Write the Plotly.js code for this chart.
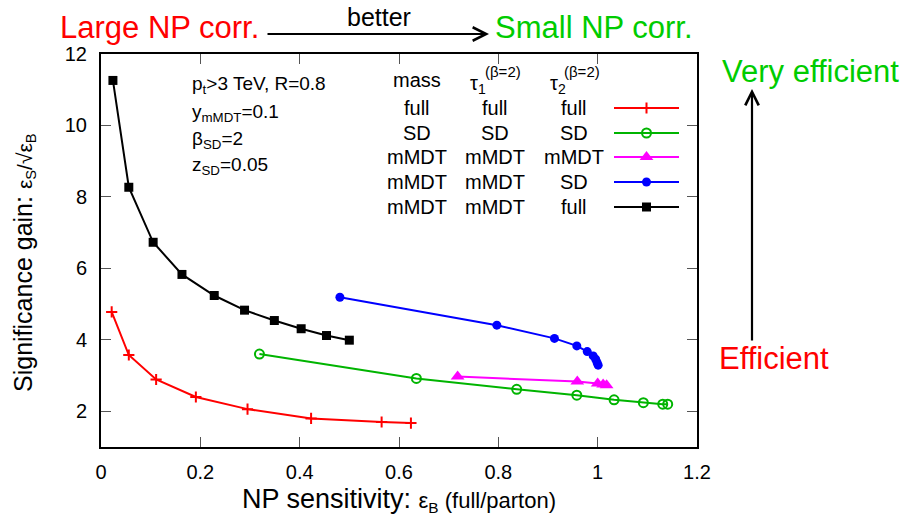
<!DOCTYPE html>
<html>
<head>
<meta charset="utf-8">
<script src="https://cdn.plot.ly/plotly-3.0.1.min.js"></script>
<style>html,body{margin:0;padding:0;background:#fff;}#plot{width:906px;height:516px;}</style>
</head>
<body>
<div id="plot"></div>
<script>
// ---- data ----
const xFull = [0.0215, 0.056, 0.111, 0.191, 0.295, 0.423, 0.565, 0.624];
const yFull = [4.78, 3.575, 2.89, 2.40, 2.06, 1.80, 1.70, 1.67];

const xSD = [0.319, 0.635, 0.837, 0.958, 1.033, 1.092, 1.131, 1.141];
const ySD = [3.60, 2.92, 2.615, 2.45, 2.32, 2.24, 2.20, 2.20];

const xMMDT = [0.718, 0.959, 1.000, 1.011, 1.018];
const yMMDT = [2.97, 2.83, 2.775, 2.75, 2.73];

const xMMDT_SD = [0.481, 0.797, 0.913, 0.958, 0.979, 0.991, 0.996, 0.999, 1.001];
const yMMDT_SD = [5.19, 4.41, 4.04, 3.83, 3.67, 3.55, 3.455, 3.36, 3.29];

const xMMDT_full = [0.024, 0.056, 0.105, 0.163, 0.228, 0.289, 0.349, 0.403, 0.454, 0.500];
const yMMDT_full = [11.26, 8.27, 6.73, 5.83, 5.24, 4.83, 4.54, 4.31, 4.12, 3.99];

const tableHeader = ["mass", "τ", "τ"];
const tableRows = [
  ["full", "full", "full"],
  ["SD", "SD", "SD"],
  ["mMDT", "mMDT", "mMDT"],
  ["mMDT", "mMDT", "SD"],
  ["mMDT", "mMDT", "full"]
];
const xTicks = [0, 0.2, 0.4, 0.6, 0.8, 1, 1.2];
const yTicks = [2, 4, 6, 8, 10, 12];

// ---- layout helpers ----
const W = 906, H = 516, ML = 101, MR = 209, MT = 54, MB = 69;
const PW = W - ML - MR, PH = H - MT - MB;
const px = v => (v - ML) / PW;
const py = v => (H - MB - v) / PH;
const FONT = "Liberation Sans, Arial, Helvetica, sans-serif";

const styles = [
  {color: "#ff0000", symbol: "cross-thin-open", size: 8, lw: 2},
  {color: "#00b400", symbol: "circle-open", size: 9, lw: 2},
  {color: "#ff00ff", symbol: "triangle-up", size: 12, lw: 0},
  {color: "#0000ff", symbol: "circle", size: 9, lw: 0},
  {color: "#000000", symbol: "square", size: 9, lw: 0}
];
const series = [[xFull, yFull], [xSD, ySD], [xMMDT, yMMDT], [xMMDT_SD, yMMDT_SD], [xMMDT_full, yMMDT_full]];

const data = [];
series.forEach((s, i) => {
  const st = styles[i];
  data.push({
    x: s[0], y: s[1], type: "scatter", mode: "lines+markers", showlegend: false,
    line: {color: st.color, width: 2},
    marker: {color: st.color, symbol: st.symbol, size: st.size, line: {color: st.color, width: st.lw || 0}}
  });
});

// legend samples, on an overlay axis spanning [0,1]
const rowY = [108, 133, 157, 182, 207];
const sampleX0 = 614, sampleX1 = 679, sampleXm = 646.5;
rowY.forEach((ry, i) => {
  const st = styles[i];
  data.push({x: [px(sampleX0), px(sampleX1)], y: [py(ry), py(ry)], xaxis: "x2", yaxis: "y2",
    type: "scatter", mode: "lines", showlegend: false, line: {color: st.color, width: 2}});
  data.push({x: [px(sampleXm)], y: [py(ry)], xaxis: "x2", yaxis: "y2",
    type: "scatter", mode: "markers", showlegend: false,
    marker: {color: st.color, symbol: st.symbol, size: st.size, line: {color: st.color, width: st.lw || 0}}});
});

const ann = [];
function txt(text, x, y, size, color, xanchor, angle) {
  ann.push({text: text, xref: "paper", yref: "paper", x: px(x), y: py(y),
    xanchor: xanchor || "center", yanchor: "middle", showarrow: false, textangle: angle || 0,
    font: {family: FONT, size: size, color: color || "#000"}});
}
function arrow(hx, hy, tx, ty) {
  ann.push({text: "", xref: "paper", yref: "paper", x: px(hx), y: py(hy),
    ax: tx - hx, ay: ty - hy, showarrow: true, arrowhead: 5, arrowsize: 1.2,
    arrowwidth: 2.2, arrowcolor: "#000"});
}

txt("Large NP corr.", 159.5, 28, 31, "#ff0000");
txt("Small NP corr.", 593.5, 28, 31, "#00cc00");
txt("better", 379, 17, 25, "#000");
txt("Very efficient", 810, 72, 31, "#00cc00");
txt("Efficient", 773.5, 358, 31, "#ff0000");
arrow(489, 34, 266, 34);
arrow(752, 89, 752, 342);

txt("p<sub>t</sub>&gt;3 TeV, R=0.8", 190, 85, 19, "#000", "left");
txt("y<sub>mMDT</sub>=0.1", 190, 113, 19, "#000", "left");
txt("β<sub>SD</sub>=2", 190, 140, 19, "#000", "left");
txt("z<sub>SD</sub>=0.05", 190, 166, 19, "#000", "left");

const colX = [417, 495, 574];
txt(tableHeader[0], colX[0], 80, 20);
txt(tableHeader[1] + "<sub>1</sub>", 478, 84, 20);
txt("(β=2)", 503, 71, 15);
txt(tableHeader[2] + "<sub>2</sub>", 558, 84, 20);
txt("(β=2)", 582, 71, 15);
tableRows.forEach((row, i) => {
  row.forEach((t, j) => txt(t, colX[j], rowY[i], 20));
});

// y-axis title as rotated annotation
txt("Significance gain: <span style='font-size:21px'>ε<sub>S</sub>/√ε<sub>B</sub></span>", 24, 263, 25, "#000", "center", -90);

const axisCommon = {
  showline: true, linewidth: 2, linecolor: "#000", mirror: "ticks",
  ticks: "inside", ticklen: 10, tickwidth: 1, tickcolor: "#555",
  showgrid: false, zeroline: false,
  tickfont: {family: FONT, size: 20, color: "#000"}
};

const layout = {
  width: W, height: H, margin: {l: ML, r: MR, t: MT, b: MB},
  paper_bgcolor: "#fff", plot_bgcolor: "#fff", showlegend: false,
  font: {family: FONT},
  xaxis: Object.assign({}, axisCommon, {
    range: [0, 1.2], tickvals: xTicks, ticktext: xTicks.map(String), ticklabelstandoff: 6,
    title: {text: "NP sensitivity: <span style='font-size:22px'>ε<sub>B</sub> (full/parton)</span>",
      font: {family: FONT, size: 27, color: "#000"}, standoff: 7}
  }),
  yaxis: Object.assign({}, axisCommon, {
    range: [1, 12], tickvals: yTicks, ticktext: yTicks.map(String), ticklabelstandoff: 8
  }),
  xaxis2: {overlaying: "x", range: [0, 1], visible: false, fixedrange: true},
  yaxis2: {overlaying: "y", range: [0, 1], visible: false, fixedrange: true},
  annotations: ann
};

Plotly.newPlot("plot", data, layout, {staticPlot: true});
</script>
</body>
</html>
